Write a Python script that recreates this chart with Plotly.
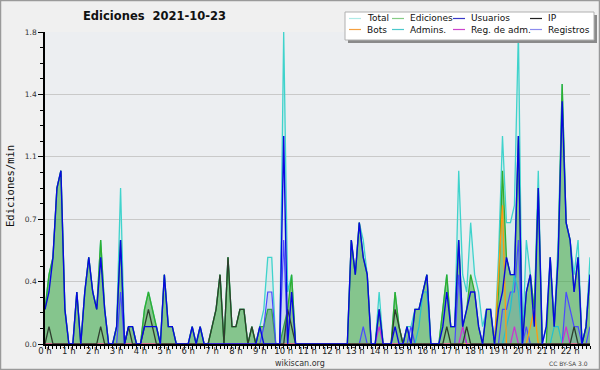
import plotly.graph_objects as go

# ---- data (edits per minute, 10-minute steps from 0:00 to 22:50) ----
TOTAL = [
    0.2, 0.4, 0.5, 0.9, 1.0, 0.2,
    0, 0, 0.3, 0, 0.3, 0.5,
    0.3, 0.2, 0.6, 0.2, 0, 0,
    0.1, 0.9, 0, 0.1, 0.1, 0,
    0, 0.2, 0.3, 0.2, 0.1, 0,
    0.4, 0.1, 0.1, 0, 0, 0,
    0, 0.1, 0, 0.1, 0, 0,
    0.1, 0.2, 0.4, 0, 0.5, 0.1,
    0.1, 0.2, 0.2, 0, 0.1, 0,
    0.1, 0.2, 0.5, 0.5, 0, 0,
    1.8, 0.3, 0.4, 0, 0, 0,
    0, 0, 0, 0, 0, 0,
    0, 0, 0, 0, 0, 0.6,
    0.4, 0.7, 0.6, 0.4, 0, 0,
    0.3, 0, 0, 0, 0.3, 0.1,
    0, 0.1, 0.1, 0.2, 0.2, 0.3,
    0.4, 0, 0, 0, 0.2, 0.4,
    0.1, 0.1, 1.0, 0.4, 0.3, 0.7,
    0.4, 0.3, 0.1, 0.2, 0.2, 0,
    0.5, 1.2, 0.7, 0.7, 0.8, 1.8,
    0, 0.6, 0.4, 0.2, 1.0, 0,
    0.1, 0.5, 0.1, 0.6, 1.5, 0.7,
    0.6, 0.4, 0.6, 0, 0.1, 0.5,
]
EDICIONES = [
    0.2, 0.4, 0.5, 0.9, 1.0, 0.2,
    0, 0, 0.3, 0, 0.3, 0.5,
    0.3, 0.2, 0.6, 0.2, 0, 0,
    0.1, 0.6, 0, 0.1, 0.1, 0,
    0, 0.2, 0.3, 0.2, 0.1, 0,
    0.4, 0.1, 0.1, 0, 0, 0,
    0, 0.1, 0, 0.1, 0, 0,
    0.1, 0.2, 0.4, 0, 0.5, 0.1,
    0.1, 0.2, 0.2, 0, 0.1, 0,
    0.1, 0.1, 0.2, 0.2, 0, 0,
    0.1, 0.2, 0.4, 0, 0, 0,
    0, 0, 0, 0, 0, 0,
    0, 0, 0, 0, 0, 0.6,
    0.4, 0.7, 0.5, 0.4, 0, 0,
    0.2, 0, 0, 0, 0.3, 0.1,
    0, 0.1, 0, 0.2, 0.2, 0.3,
    0.4, 0, 0, 0, 0.2, 0.4,
    0.1, 0.1, 0.6, 0.1, 0.2, 0.4,
    0.3, 0.1, 0, 0.2, 0.2, 0,
    0.3, 1.0, 0.5, 0.4, 0.4, 1.2,
    0, 0.3, 0.4, 0.2, 0.9, 0,
    0, 0.5, 0.1, 0.5, 1.5, 0.7,
    0.6, 0.3, 0.5, 0, 0.1, 0.4,
]
USUARIOS = [
    0.2, 0.3, 0.5, 0.9, 1.0, 0.2,
    0, 0, 0.3, 0, 0.3, 0.5,
    0.3, 0.2, 0.5, 0.2, 0, 0,
    0.1, 0.6, 0, 0.1, 0.1, 0,
    0, 0.1, 0.1, 0.1, 0.1, 0,
    0.4, 0.1, 0.1, 0, 0, 0,
    0, 0.1, 0, 0.1, 0, 0,
    0, 0, 0, 0, 0, 0,
    0, 0, 0, 0, 0, 0,
    0.1, 0, 0, 0, 0, 0,
    1.2, 0, 0.3, 0, 0, 0,
    0, 0, 0, 0, 0, 0,
    0, 0, 0, 0, 0, 0.6,
    0.4, 0.7, 0.5, 0.4, 0, 0,
    0.2, 0, 0, 0, 0.1, 0,
    0, 0.1, 0, 0.2, 0.2, 0.3,
    0.4, 0, 0, 0, 0.1, 0.3,
    0.1, 0.1, 0.6, 0.1, 0.2, 0.3,
    0.3, 0.1, 0, 0.2, 0.2, 0,
    0.2, 0.3, 0.5, 0.4, 0.4, 1.2,
    0, 0.3, 0.4, 0.1, 0.9, 0,
    0.1, 0.5, 0.1, 0.5, 1.4, 0.7,
    0.6, 0.3, 0.5, 0, 0.1, 0.4,
]
IP = [
    0, 0.1, 0, 0, 0, 0,
    0, 0, 0, 0, 0, 0,
    0, 0, 0.1, 0, 0, 0,
    0, 0, 0, 0.1, 0, 0,
    0, 0.1, 0.2, 0.1, 0, 0,
    0, 0, 0, 0, 0, 0,
    0, 0, 0, 0, 0, 0,
    0.1, 0.2, 0.4, 0, 0.5, 0.1,
    0.1, 0.2, 0.2, 0, 0.1, 0,
    0, 0, 0, 0, 0, 0,
    0, 0.2, 0.1, 0, 0, 0,
    0, 0, 0, 0, 0, 0,
    0, 0, 0, 0, 0, 0,
    0, 0, 0, 0, 0, 0,
    0, 0, 0, 0, 0.2, 0.1,
    0, 0, 0, 0, 0, 0,
    0, 0, 0, 0, 0, 0.1,
    0, 0, 0, 0, 0.1, 0,
    0, 0, 0, 0, 0, 0,
    0, 0, 0, 0, 0, 0,
    0, 0, 0, 0, 0, 0,
    0, 0, 0, 0, 0, 0,
    0, 0.1, 0, 0, 0, 0,
]
BOTS = [0] * 114 + [0.4, 0.8, 0, 0, 0, 0, 0, 0, 0.1, 0.2] + [0] * 14
ADMINS = ([0] * 94 + [0.1, 0.3, 0.3] + [0] * 19 + [0.1, 0.2, 0.4, 0.3]
          + [0] * 8 + [0.1, 0.1] + [0] * 8)
REG_ADM = [0] * 84 + [0.1] + [0] * 20 + [0.1] + [0] * 12 + [0.1] + [0] * 12 + [0.1] + [0] * 6
REGISTROS = [
    0, 0, 0, 0, 0, 0,
    0, 0, 0, 0, 0, 0,
    0, 0, 0, 0, 0, 0,
    0, 0.3, 0, 0, 0, 0,
    0, 0, 0, 0, 0, 0,
    0, 0, 0, 0, 0, 0,
    0, 0, 0, 0, 0, 0,
    0, 0, 0, 0, 0, 0,
    0, 0, 0, 0, 0, 0,
    0, 0.1, 0.3, 0.3, 0, 0,
    0.6, 0, 0, 0, 0, 0,
    0, 0, 0, 0, 0, 0,
    0, 0, 0, 0, 0, 0,
    0, 0, 0.1, 0, 0, 0,
    0, 0, 0, 0, 0, 0,
    0, 0, 0.1, 0, 0, 0,
    0, 0, 0, 0, 0, 0,
    0, 0, 0.4, 0.1, 0, 0,
    0, 0, 0, 0, 0, 0,
    0, 0.2, 0.2, 0.3, 0.3, 0.6,
    0, 0.1, 0, 0, 0, 0,
    0, 0, 0, 0, 0, 0.3,
    0.2, 0.1, 0.1, 0, 0, 0.1,
]
HOURS = [i / 6 for i in range(len(TOTAL))]
HOUR_TICKS = list(range(23))
HOUR_LABELS = [f"{h} h" for h in HOUR_TICKS]
Y_TICKS = [0, 0.36, 0.72, 1.08, 1.44, 1.8]
Y_LABELS = ["0.0", "0.4", "0.7", "1.1", "1.4", "1.8"]

# ---- layout geometry (pixels) ----
W, H = 600, 370
L, R, T, B = 45, 10, 32, 26
PW, PH = W - L - R, H - T - B


def px(x):
    return (x - L) / PW


def py(y):
    return (H - B - y) / PH


FONT = "DejaVu Sans"
series = [
    # name, data, line color, width, fill, legend colour
    ("Total", TOTAL, "#3fd3cc", 1.3, "rgba(90,220,210,0.13)", "#aeeae6"),
    ("Ediciones", EDICIONES, "#2fae2f", 1.3, "rgba(50,160,46,0.50)", "#86cc86"),
    ("Registros", REGISTROS, "#4a4aff", 1.2, "rgba(80,80,255,0.12)", "#8c8cee"),
    ("Admins.", ADMINS, "#22c0d0", 1.2, None, "#4cc8cc"),
    ("Bots", BOTS, "#ff9a10", 1.3, None, "#f5a040"),
    ("Reg. de adm.", REG_ADM, "#d030d0", 1.2, None, "#cc44cc"),
    ("IP", IP, "#2e3e2e", 1.3, None, "#222222"),
    ("Usuarios", USUARIOS, "#0808e0", 1.4, None, "#3838c8"),
]

fig = go.Figure()
for name, data, col, w, fill, _ in series:
    fig.add_trace(go.Scatter(
        x=HOURS, y=data, mode="lines", name=name,
        line=dict(color=col, width=w),
        fill="tozeroy" if fill else None,
        fillcolor=fill, showlegend=False, hoverinfo="skip"))

fig.update_layout(
    width=W, height=H,
    margin=dict(l=L, r=R, t=T, b=B),
    paper_bgcolor="#f0f0f0", plot_bgcolor="#eceef1",
    font=dict(family=FONT, size=8, color="#222"),
    xaxis=dict(range=[0, HOURS[-1]], tickvals=HOUR_TICKS, ticktext=HOUR_LABELS,
               showgrid=False, zeroline=False, showline=True, linecolor="#000",
               linewidth=1.5, ticks="outside", ticklen=3, tickwidth=1,
               tickcolor="#000", tickfont=dict(size=8.5, color="#222"),
               ticklabelstandoff=-5,
               minor=dict(dtick=1 / 6, tick0=0, ticks="outside", ticklen=3,
                          tickwidth=1, tickcolor="#000")),
    yaxis=dict(range=[0, 1.8], tickvals=Y_TICKS, ticktext=Y_LABELS,
               showgrid=True, gridcolor="#c9c9c9", gridwidth=1,
               zeroline=False, showline=True, linecolor="#000", linewidth=1.5,
               ticks="outside", ticklen=5, tickcolor="#000",
               tickfont=dict(size=7.5, color="#333"),
               minor=dict(dtick=0.09, tick0=0, ticks="outside", ticklen=3,
                          tickcolor="#000", showgrid=False)),
)

ann = []
shapes = []
# outer frame
shapes.append(dict(type="rect", xref="paper", yref="paper",
                   x0=px(0.5), x1=px(W - 0.5), y0=py(H - 0.5), y1=py(0.5),
                   line=dict(color="#9a9a9a", width=1.5), layer="below"))
# title
ann.append(dict(text="<b>Ediciones  2021-10-23</b>", x=px(154), y=py(16),
                xref="paper", yref="paper", showarrow=False,
                font=dict(family=FONT, size=11.5, color="#111"),
                xanchor="center", yanchor="middle"))
# y title
ann.append(dict(text="Ediciones/min", x=px(10), y=py(186), xref="paper",
                yref="paper", showarrow=False, textangle=-90,
                font=dict(family="DejaVu Sans Mono", size=10.5, color="#111"),
                xanchor="center", yanchor="middle"))
# footer
ann.append(dict(text="wikiscan.org", x=px(300), y=py(369), xref="paper",
                yref="paper", showarrow=False, borderpad=0,
                font=dict(family=FONT, size=8, color="#333"),
                xanchor="center", yanchor="bottom"))
ann.append(dict(text="CC BY-SA 3.0", x=px(589), y=py(368), xref="paper",
                yref="paper", showarrow=False, borderpad=0,
                font=dict(family=FONT, size=6, color="#444"),
                xanchor="right", yanchor="bottom"))

# legend box with shadow
shapes.append(dict(type="rect", xref="paper", yref="paper",
                   x0=px(348), x1=px(597), y0=py(43), y1=py(15),
                   fillcolor="#8a8a8a", line=dict(width=0)))
shapes.append(dict(type="rect", xref="paper", yref="paper",
                   x0=px(345), x1=px(594), y0=py(40), y1=py(12),
                   fillcolor="#ffffff", line=dict(color="#b0b0b0", width=1)))
legend_layout = {
    "Total": (349, 18.5), "Ediciones": (392, 18.5), "Usuarios": (453, 18.5),
    "IP": (530, 18.5), "Bots": (349, 29.5), "Admins.": (392, 29.5),
    "Reg. de adm.": (453, 29.5), "Registros": (530, 29.5),
}
for name, data, col, w, fill, lcol in series:
    x0, y0 = legend_layout[name]
    shapes.append(dict(type="line", xref="paper", yref="paper",
                       x0=px(x0), x1=px(x0 + 12), y0=py(y0), y1=py(y0),
                       line=dict(color=lcol, width=1.2)))
    ann.append(dict(text=name, x=px(x0 + 16), y=py(y0), xref="paper",
                    yref="paper", showarrow=False, xanchor="left",
                    yanchor="middle",
                    font=dict(family=FONT, size=9, color="#111")))

fig.update_layout(annotations=ann, shapes=shapes)
fig.write_html("out.html")
